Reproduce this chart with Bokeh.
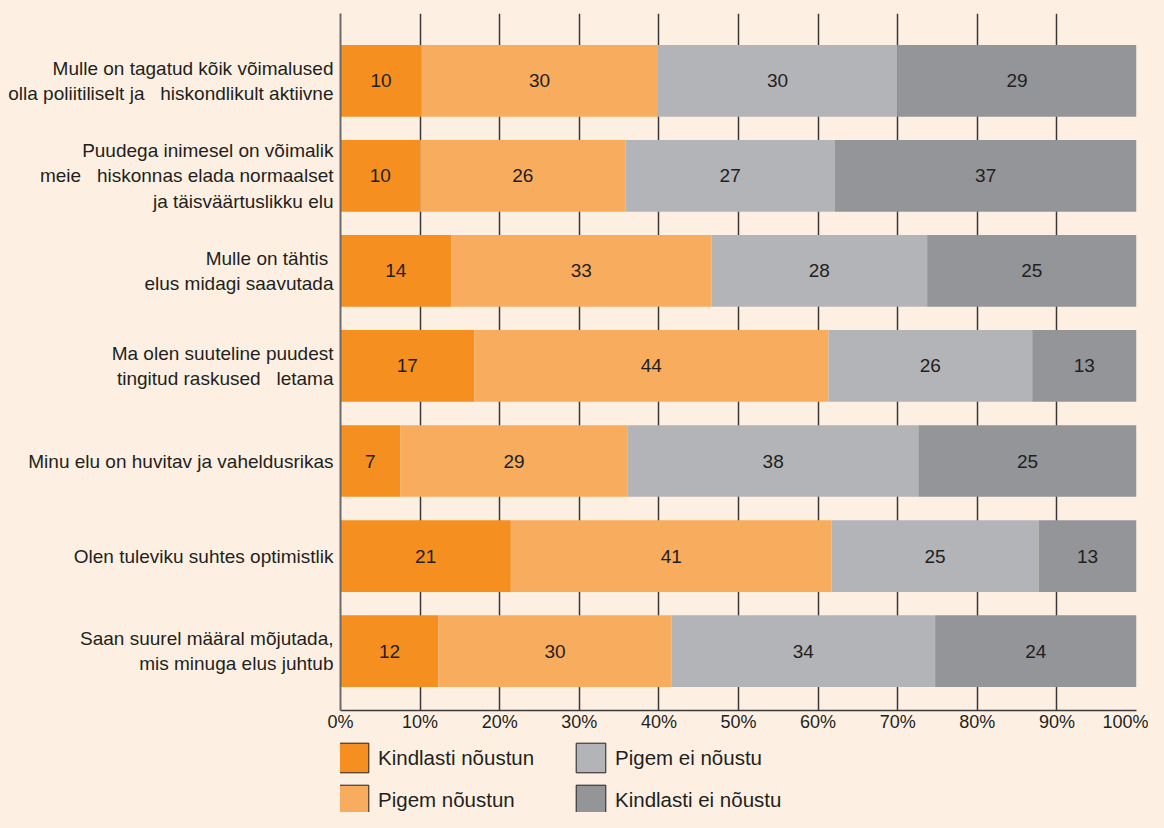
from bokeh.plotting import figure
from bokeh.layouts import column
from bokeh.models import Range1d, FixedTicker, ColumnDataSource, Legend, LegendItem
from bokeh.core.properties import value
from bokeh.embed import file_html
from bokeh.resources import INLINE

# ---- data ----
NB = "\u00a0"
statements = [
    f"Mulle on tagatud kõik võimalused\nolla poliitiliselt ja {NB}{NB}hiskondlikult aktiivne",
    f"Puudega inimesel on võimalik\nmeie {NB}{NB}hiskonnas elada normaalset\nja täisväärtuslikku elu",
    f"Mulle on tähtis{NB}\nelus midagi saavutada",
    f"Ma olen suuteline puudest\ntingitud raskused {NB}{NB}letama",
    "Minu elu on huvitav ja vaheldusrikas",
    "Olen tuleviku suhtes optimistlik",
    "Saan suurel määral mõjutada,\nmis minuga elus juhtub",
]
series_names = ["Kindlasti nõustun", "Pigem nõustun", "Pigem ei nõustu", "Kindlasti ei nõustu"]

# bar shares (% of respondents, as drawn)
kindlasti_noustun = [10.2, 10.0, 13.9, 16.8, 7.5, 21.4, 12.3]
pigem_noustun     = [29.6, 25.8, 32.7, 44.5, 28.6, 40.3, 29.3]
pigem_ei_noustu   = [30.2, 26.3, 27.1, 25.6, 36.5, 26.0, 33.1]
kindlasti_ei      = [30.0, 37.9, 26.3, 13.1, 27.4, 12.3, 25.3]

# printed labels
labels_kindlasti_noustun = [10, 10, 14, 17, 7, 21, 12]
labels_pigem_noustun     = [30, 26, 33, 44, 29, 41, 30]
labels_pigem_ei_noustu   = [30, 27, 28, 26, 38, 25, 34]
labels_kindlasti_ei      = [29, 37, 25, 13, 25, 13, 24]

x_ticks = [0, 10, 20, 30, 40, 50, 60, 70, 80, 90, 100]
x_tick_labels = [f"{t}%" for t in x_ticks]

# ---- style ----
colors = ["#F58F1F", "#F8AC5E", "#B3B4B7", "#939598"]
BG = "#FDF0E3"
TXT = "#231F20"
FONT = "Liberation Sans"

series = [kindlasti_noustun, pigem_noustun, pigem_ei_noustu, kindlasti_ei]
series_labels = [labels_kindlasti_noustun, labels_pigem_noustun,
                 labels_pigem_ei_noustu, labels_kindlasti_ei]

n = len(statements)
ypos = list(range(n))

p = figure(width=1148, height=738, output_backend="svg", toolbar_location=None,
           x_range=Range1d(0, 100), y_range=Range1d(6.626, -0.71),
           min_border_left=340, min_border_right=12, min_border_top=13,
           min_border_bottom=28)
p.background_fill_color = BG
p.border_fill_color = BG
p.outline_line_color = None

# grid
p.ygrid.grid_line_color = None
p.xgrid.ticker = FixedTicker(ticks=x_ticks)
p.xgrid.grid_line_color = "#3A3839"
p.xgrid.grid_line_width = 1.5

# x axis
p.xaxis.ticker = FixedTicker(ticks=x_ticks)
p.xaxis.major_label_overrides = {t: l for t, l in zip(x_ticks, x_tick_labels)}
p.xaxis.axis_line_color = "#3A3839"
p.xaxis.axis_line_width = 1.5
p.xaxis.major_tick_line_color = None
p.xaxis.minor_tick_line_color = None
p.xaxis.major_label_standoff = -5
p.xaxis.major_label_text_font = FONT
p.xaxis.major_label_text_font_size = "18px"
p.xaxis.major_label_text_color = TXT

# y axis
p.yaxis.ticker = FixedTicker(ticks=ypos)
p.yaxis.major_label_overrides = {i: s for i, s in zip(ypos, statements)}
p.yaxis.axis_line_color = "#6D6A6B"
p.yaxis.axis_line_width = 2
p.yaxis.major_tick_line_color = None
p.yaxis.minor_tick_line_color = None
p.yaxis.major_label_standoff = 1
p.yaxis.major_label_text_font = FONT
p.yaxis.major_label_text_font_size = "19px"
p.yaxis.major_label_text_color = TXT
p.yaxis.major_label_text_line_height = 1.2

left = [0.0] * n
for vals, labs, col in zip(series, series_labels, colors):
    right = [l + v for l, v in zip(left, vals)]
    src = ColumnDataSource(dict(
        y=ypos, left=left, right=right,
        xc=[(a + b) / 2 for a, b in zip(left, right)],
        lab=[str(v) for v in labs],
    ))
    p.hbar(y="y", left="left", right="right", height=0.755, source=src,
           fill_color=col, line_color=None)
    p.text(x="xc", y="y", text="lab", source=src, text_align="center",
           text_baseline="middle", text_font=value(FONT), text_font_size="19px",
           text_color=TXT)
    left = right

# ---- legend figure (its frame is aligned with the main frame by the column) ----
lg = figure(width=1148, height=74, output_backend="svg", toolbar_location=None,
            x_range=Range1d(0, 1), y_range=Range1d(0, 1),
            x_axis_location=None, y_axis_location=None,
            min_border_left=340, min_border_right=12,
            min_border_top=0, min_border_bottom=0)
lg.background_fill_color = BG
lg.border_fill_color = BG
lg.outline_line_color = None
lg.xgrid.visible = False
lg.ygrid.visible = False

items = []
for name, col in zip(series_names, colors):
    # swatch renderer: one entry lying outside the legend panel's range (only its legend swatch shows)
    r = lg.hbar(y=[-5], left=[0], right=[1], height=0.5, fill_color=col,
                line_color=TXT, line_width=1)
    items.append(LegendItem(label=name, renderers=[r]))

legend = Legend(items=items, orientation="vertical", nrows=2,
                location=(-5, -6), glyph_width=37, glyph_height=37,
                label_standoff=6, label_width=189, spacing=5,
                padding=0, margin=0, border_line_color=None,
                background_fill_alpha=0,
                label_text_font=FONT, label_text_font_size="20.5px",
                label_text_color=TXT)
lg.add_layout(legend, "center")

layout = column(p, lg, spacing=0)

html = file_html(layout, INLINE)
html = html.replace("<head>", "<head><style>html,body{background:#FDF0E3;}</style>", 1)
open("out.html", "w").write(html)
